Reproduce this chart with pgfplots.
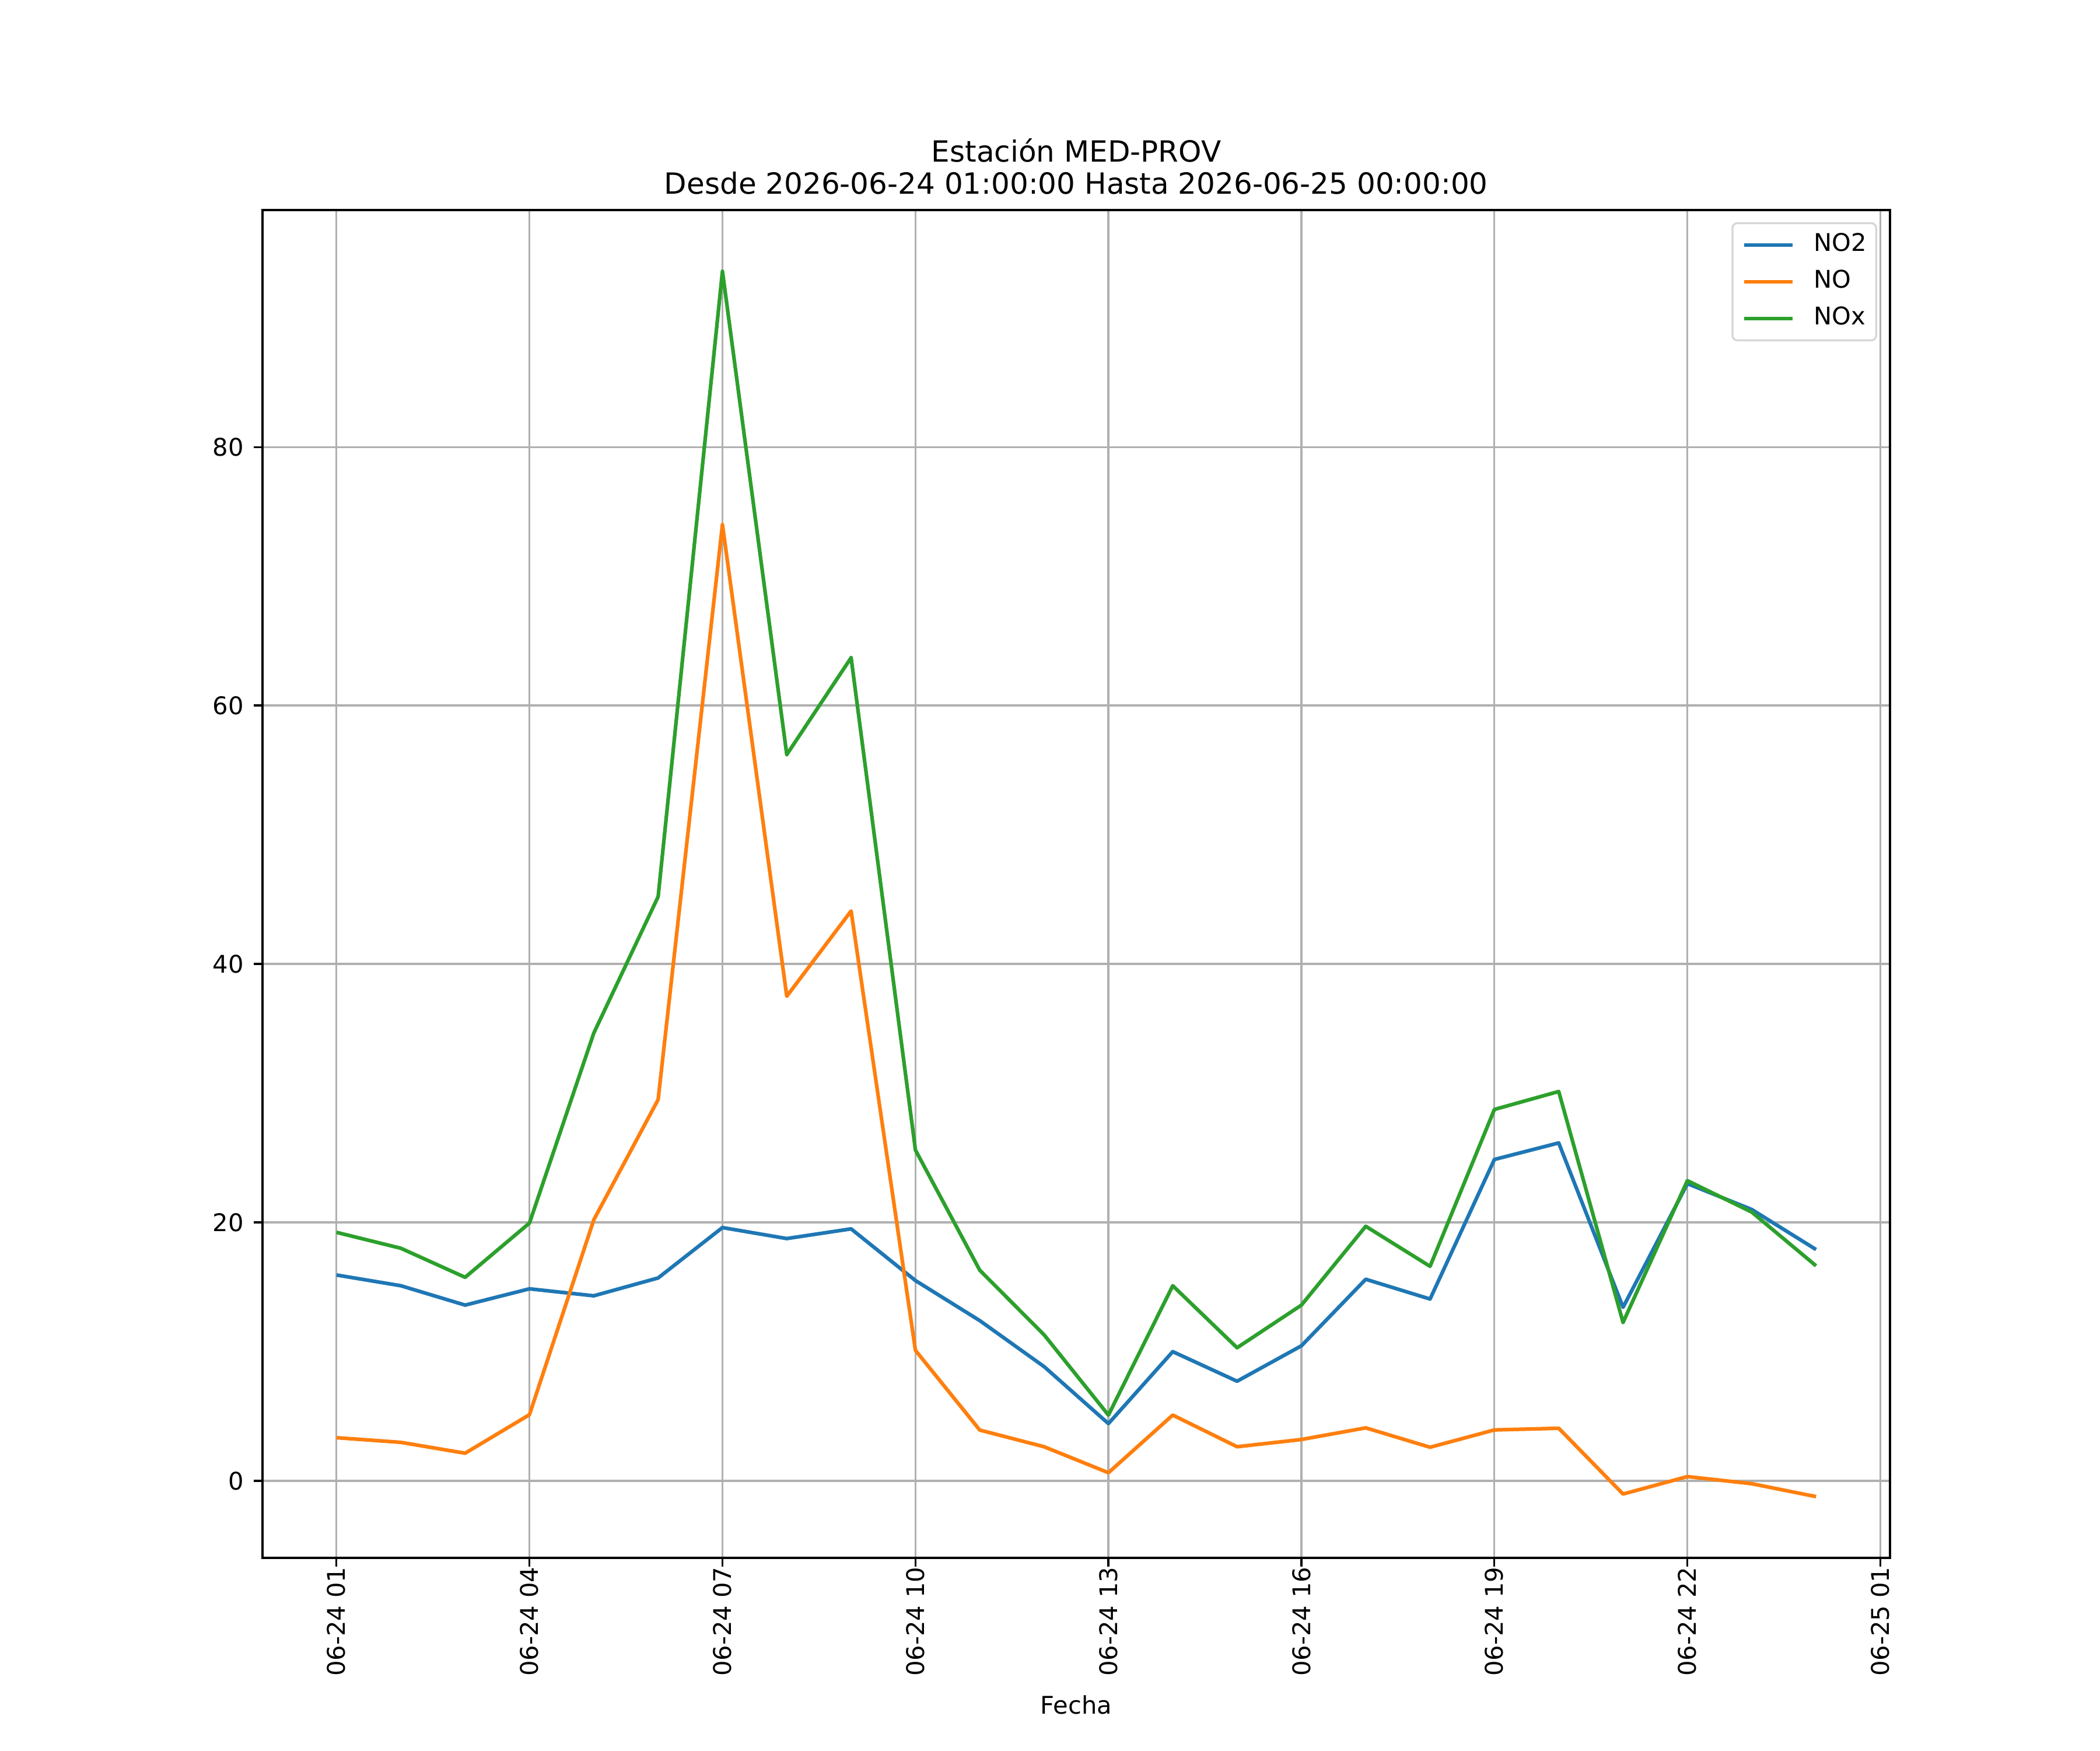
\documentclass[border=0pt]{standalone}
\usepackage{fontspec}
\setmainfont{DejaVu Sans}
\usepackage{pgfplots}
\usepackage{pgfplotstable}
\pgfplotsset{compat=1.18}
\definecolor{cNOtwo}{HTML}{1F77B4}
\definecolor{cNO}{HTML}{FF7F0E}
\definecolor{cNOx}{HTML}{2CA02C}
\definecolor{gridgray}{HTML}{B0B0B0}
\definecolor{legframe}{HTML}{D6D6D6}

\pgfplotstableread{
h  v
1  15.93
2  15.1
3  13.6
4  14.86
5  14.32
6  15.7
7  19.6
8  18.75
9  19.5
10 15.5
11 12.4
12 8.84
13 4.43
14 10.0
15 7.71
16 10.45
17 15.6
18 14.07
19 24.87
20 26.15
21 13.43
22 23.0
23 21.0
24 17.9
}\tblNOtwo

\pgfplotstableread{
h  v
1  3.34
2  2.98
3  2.14
4  5.12
5  20.2
6  29.5
7  74.0
8  37.5
9  44.1
10 10.1
11 3.93
12 2.64
13 0.63
14 5.09
15 2.64
16 3.2
17 4.1
18 2.6
19 3.94
20 4.07
21 -1.02
22 0.33
23 -0.22
24 -1.22
}\tblNO

\pgfplotstableread{
h  v
1  19.23
2  18.0
3  15.75
4  19.95
5  34.65
6  45.2
7  93.6
8  56.2
9  63.7
10 25.6
11 16.3
12 11.3
13 5.09
14 15.1
15 10.3
16 13.6
17 19.7
18 16.6
19 28.74
20 30.13
21 12.26
22 23.23
23 20.8
24 16.64
}\tblNOx

\begin{document}
\begin{tikzpicture}
\useasboundingbox (-108pt,-79.2pt) rectangle (756pt,640.8pt);
\begin{axis}[
  at={(0pt,0pt)}, anchor=south west,
  scale only axis,
  width=669.6pt, height=554.4pt,
  xmin=-0.15, xmax=25.15,
  ymin=-5.96, ymax=98.34,
  xtick={1,4,7,10,13,16,19,22,25},
  xticklabels={06-24 01,06-24 04,06-24 07,06-24 10,06-24 13,06-24 16,06-24 19,06-24 22,06-25 01},
  ytick={0,20,40,60,80},
  xtick pos=bottom, ytick pos=left,
  tick align=outside,
  major tick length=3.5pt,
  every tick/.style={black, line width=0.8pt},
  axis line style={line width=0.8pt, black},
  grid=major,
  major grid style={gridgray, line width=0.8pt},
  /pgf/number format/assume math mode=true,
  tick label style={font=\fontsize{10}{12}\selectfont},
  x tick label style={rotate=90, anchor=east, inner sep=0pt},
  y tick label style={anchor=east, inner sep=0pt, xshift=-4pt},
  xlabel={Fecha},
  xlabel style={at={(axis description cs:0.5,0)}, anchor=base, yshift=-64.1pt, font=\fontsize{10}{12}\selectfont, inner sep=0pt},
  title={Estación MED-PROV\\Desde 2026-06-24 01:00:00 Hasta 2026-06-25 00:00:00},
  title style={at={(axis description cs:0.5,1)}, anchor=south, align=center, inner sep=0pt, yshift=0.2pt, font=\fontsize{12}{13.2}\selectfont},
  legend style={at={(axis description cs:1,1)}, anchor=north east, xshift=-5.3pt, yshift=-5pt,
    draw=legframe, line width=0.8pt, rounded corners=2pt, fill=white,
    font=\fontsize{10}{12}\selectfont, inner xsep=4pt, inner ysep=4pt, row sep=5.1pt,
    nodes={inner sep=0pt, text height=7.5pt, text depth=2.5pt},
    /tikz/every odd column/.append style={column sep=7.9pt}},
  legend cell align=left,
  legend image code/.code={\draw[#1, line width=1.5pt] (0pt,0pt) -- (20pt,0pt);},
]
\addplot[cNOtwo, line width=1.5pt, line join=round] table[x=h, y=v] {\tblNOtwo};
\addlegendentry{NO2}
\addplot[cNO, line width=1.5pt, line join=round] table[x=h, y=v] {\tblNO};
\addlegendentry{NO}
\addplot[cNOx, line width=1.5pt, line join=round] table[x=h, y=v] {\tblNOx};
\addlegendentry{NOx}
\end{axis}
\end{tikzpicture}
\end{document}
